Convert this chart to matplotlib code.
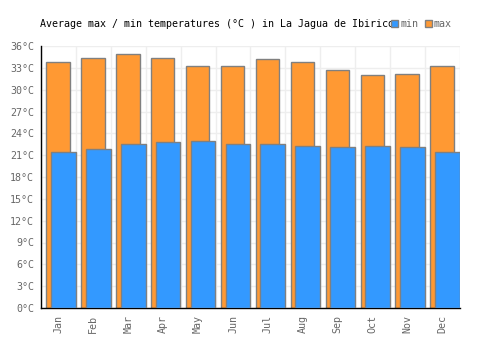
import matplotlib
matplotlib.use("Agg")
import matplotlib.pyplot as plt
from matplotlib.patches import Patch
import numpy as np

months = ["Jan", "Feb", "Mar", "Apr", "May", "Jun", "Jul", "Aug", "Sep", "Oct", "Nov", "Dec"]
max_temp = [33.75, 34.4, 34.85, 34.4, 33.3, 33.3, 34.2, 33.75, 32.65, 32.0, 32.2, 33.2]
min_temp = [21.4, 21.8, 22.5, 22.76, 23.0, 22.6, 22.6, 22.3, 22.07, 22.2, 22.07, 21.4]
yticks = list(range(0, 37, 3))

FONT = "DejaVu Sans Mono"
FS = 7.2
ORANGE = "#FF9933"
BLUE = "#3399FF"
EDGE = "#808080"
TXT = "#666666"

fig = plt.figure(figsize=(5, 3.5), dpi=100)
ax = fig.add_axes([41/500, 1 - 308/350, (460-41)/500, (308-46)/350])

x = np.arange(len(months))
ax.bar(x - 0.013, max_temp, width=0.67, color=ORANGE, edgecolor=EDGE, linewidth=1, zorder=2)
ax.bar(x + 0.14, min_temp, width=0.708, color=BLUE, edgecolor=EDGE, linewidth=1, zorder=3)

ax.set_xlim(-0.5, len(months) - 0.5)
ax.set_ylim(0, 36)
ax.set_yticks(yticks)
ax.set_yticklabels([f"{v}°C" for v in yticks], fontfamily=FONT, fontsize=FS, color=TXT)
ax.set_xticks(x)
ax.set_xticklabels(months, rotation=90, fontfamily=FONT, fontsize=FS, color=TXT)
ax.set_xticks(np.arange(-0.5, len(months), 1), minor=True)
ax.tick_params(axis="both", which="both", length=0)
ax.tick_params(axis="y", pad=5)
ax.tick_params(axis="x", pad=5)

ax.grid(True, axis="y", color="#eeeeee", linewidth=1, zorder=0)
ax.grid(True, axis="x", which="minor", color="#eeeeee", linewidth=1, zorder=0)
ax.grid(False, axis="x", which="major")
ax.set_axisbelow(True)
for s in ["top", "right"]:
    ax.spines[s].set_visible(False)
ax.spines["left"].set_color("black")
ax.spines["bottom"].set_color("black")
ax.spines["left"].set_linewidth(1)
ax.spines["bottom"].set_linewidth(1)

fig.text(40/500, 1 - 24/350, "Average max / min temperatures (°C ) in La Jagua de Ibirico",
         fontfamily=FONT, fontsize=FS, color="black", va="center", ha="left")

handles = [Patch(facecolor=BLUE, edgecolor=EDGE, label="min"),
           Patch(facecolor=ORANGE, edgecolor=EDGE, label="max")]
leg = fig.legend(handles=handles, loc="center left", bbox_to_anchor=(391/500, 1 - 24/350),
                 ncol=2, frameon=False, handlelength=0.7, handleheight=0.7,
                 handletextpad=0.25, columnspacing=0.6, borderaxespad=0, borderpad=0,
                 prop={"family": FONT, "size": FS})
for t in leg.get_texts():
    t.set_color(TXT)

fig.savefig("out.png", dpi=100)
